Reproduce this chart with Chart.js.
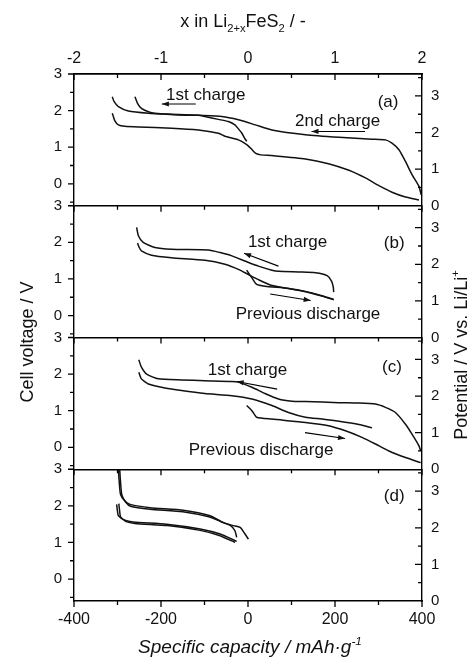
<!DOCTYPE html>
<html>
<head>
<meta charset="utf-8">
<script src="https://cdn.jsdelivr.net/npm/chart.js@4/dist/chart.umd.min.js"></script>
<style>
  html, body { margin: 0; padding: 0; background: #fff; }
  #wrap { width: 475px; height: 672px; }
</style>
</head>
<body>
<div id="wrap"><canvas id="chart"></canvas></div>
<script>
// capacity in mAh/g, cell voltage in V

// (a) discharge, 2nd charge, 1st charge
const capA_dis = [-312, -306, -298, -283, -252, -176, -114, -68, -53, -22, -3, 8, 18, 30, 55, 132, 185, 232, 270, 301, 331, 362, 393];
const voltA_dis = [1.93, 1.72, 1.61, 1.57, 1.55, 1.52, 1.47, 1.38, 1.30, 1.20, 1.07, 0.95, 0.83, 0.79, 0.77, 0.68, 0.55, 0.37, 0.16, -0.05, -0.23, -0.36, -0.44];
const capA_ch2 = [398, 393, 377, 362, 347, 331, 316, 285, 209, 132, 55, 17, -22, -60, -114, -176, -229, -275, -298, -308, -312];
const voltA_ch2 = [-0.30, -0.07, 0.25, 0.61, 0.93, 1.11, 1.20, 1.22, 1.27, 1.34, 1.47, 1.61, 1.75, 1.84, 1.87, 1.90, 1.93, 1.99, 2.11, 2.25, 2.38];
const capA_ch1 = [-3, -8, -14, -22, -30, -45, -68, -99, -114, -160, -214, -229, -245, -254, -260];
const voltA_ch1 = [1.16, 1.25, 1.38, 1.50, 1.61, 1.70, 1.76, 1.84, 1.87, 1.88, 1.93, 1.97, 2.06, 2.20, 2.38];

// (b) previous discharge, 1st charge, discharge
const capB_prev = [-3, 9, 20, 39, 93, 132, 170, 197];
const voltB_prev = [1.24, 1.03, 0.85, 0.80, 0.74, 0.66, 0.54, 0.44];
const capB_ch1 = [197, 196, 192, 182, 155, 117, 70, 55, 24, -7, -37, -64, -91, -176, -214, -241, -252, -256];
const voltB_ch1 = [0.64, 0.78, 0.94, 1.09, 1.17, 1.19, 1.21, 1.24, 1.35, 1.49, 1.63, 1.72, 1.79, 1.81, 1.86, 2.00, 2.18, 2.41];
const capB_dis = [-254, -250, -245, -222, -176, -99, -53, -22, 1, 24, 55, 93, 132, 170, 197];
const voltB_dis = [1.98, 1.86, 1.77, 1.65, 1.58, 1.51, 1.40, 1.26, 1.12, 0.98, 0.82, 0.74, 0.65, 0.53, 0.43];

// (c) previous discharge, 1st charge, discharge
const capC_prev = [-3, 9, 20, 55, 132, 185, 224, 262, 293, 324, 362, 397];
const voltC_prev = [1.14, 1.00, 0.82, 0.77, 0.68, 0.59, 0.45, 0.27, 0.09, -0.10, -0.28, -0.42];
const capC_ch1 = [397, 393, 377, 362, 339, 316, 293, 255, 209, 132, 101, 70, 39, 9, -22, -37, -99, -153, -206, -233, -245, -251];
const voltC_ch1 = [-0.10, 0.04, 0.36, 0.63, 0.95, 1.09, 1.18, 1.21, 1.22, 1.25, 1.26, 1.32, 1.47, 1.64, 1.78, 1.80, 1.82, 1.84, 1.87, 2.00, 2.19, 2.39];
const capC_dis = [-251, -245, -229, -191, -153, -99, -37, 9, 55, 93, 132, 170, 209, 255, 285];
const voltC_dis = [2.05, 1.87, 1.73, 1.62, 1.55, 1.47, 1.41, 1.32, 1.14, 0.95, 0.82, 0.77, 0.71, 0.62, 0.53];

// (d) two charge / discharge cycles
const capD_ch1 = [1, -8, -18, -34, -57, -87, -149, -225, -271, -283, -293, -296, -298];
const voltD_ch1 = [1.09, 1.25, 1.41, 1.46, 1.54, 1.73, 1.88, 1.95, 2.04, 2.13, 2.31, 2.65, 3.0];
const capD_ch2 = [-26, -30, -40, -60, -90, -150, -225, -270, -281, -290, -293, -295];
const voltD_ch2 = [1.14, 1.32, 1.46, 1.56, 1.70, 1.84, 1.91, 1.99, 2.10, 2.30, 2.65, 3.0];
const capD_dis1 = [-302, -300, -298, -283, -264, -187, -110, -64, -26];
const voltD_dis1 = [2.04, 1.85, 1.73, 1.61, 1.56, 1.50, 1.37, 1.23, 1.03];
const capD_dis2 = [-297, -295, -293, -280, -260, -185, -110, -66, -30];
const voltD_dis2 = [2.06, 1.85, 1.70, 1.57, 1.52, 1.46, 1.33, 1.19, 1.00];

// axis ticks
const capTicks = [-400, -200, 0, 200, 400];
const capMarks = [-400, -300, -200, -100, 0, 100, 200, 300, 400];
const liTicks = [-2, -1, 0, 1, 2];
const voltTicks = [0, 1, 2, 3];
const voltMarks = [-0.5, 0, 0.5, 1, 1.5, 2, 2.5, 3];
const potTicks = [0, 1, 2, 3];
const potMarks = [0.5, 1, 1.5, 2, 2.5, 3, 3.5];

// panel labels and arrows, in capacity / cell voltage units
const notes = [
  { axis: 'yA', x: -97, y: 2.43, text: '1st charge' },
  { axis: 'yA', x: 322, y: 2.22, text: '(a)' },
  { axis: 'yA', x: 206, y: 1.72, text: '2nd charge' },
  { axis: 'yB', x: 91, y: 2.0, text: '1st charge' },
  { axis: 'yB', x: 336, y: 1.98, text: '(b)' },
  { axis: 'yB', x: 138, y: 0.02, text: 'Previous discharge' },
  { axis: 'yC', x: -1, y: 2.10, text: '1st charge' },
  { axis: 'yC', x: 331, y: 2.19, text: '(c)' },
  { axis: 'yC', x: 30, y: -0.07, text: 'Previous discharge' },
  { axis: 'yD', x: 336, y: 2.27, text: '(d)' }
];
const arrows = [
  { axis: 'yA', from: [-120, 2.18], to: [-198, 2.18] },
  { axis: 'yA', from: [269, 1.43], to: [146, 1.43] },
  { axis: 'yB', from: [70, 1.35], to: [-9, 1.70] },
  { axis: 'yB', from: [51, 0.59], to: [144, 0.41] },
  { axis: 'yC', from: [67, 1.59], to: [-26, 1.80] },
  { axis: 'yC', from: [131, 0.40], to: [223, 0.24] }
];

const panels = [
  { left: 'yA', right: 'rA', wl: 4, wr: 1 },
  { left: 'yB', right: 'rB', wl: 3, wr: 2 },
  { left: 'yC', right: 'rC', wl: 2, wr: 3 },
  { left: 'yD', right: 'rD', wl: 1, wr: 4 }
];

const FONT = '"Liberation Sans", Arial, sans-serif';
Chart.defaults.font.family = FONT;
Chart.defaults.color = '#111';

function curve(cap, volt, axis) {
  return {
    data: cap.map((x, i) => ({ x: x, y: volt[i] })),
    yAxisID: axis,
    borderColor: '#111',
    borderWidth: 1.5,
    pointRadius: 0,
    tension: 0.2,
    fill: false
  };
}

const datasets = [
  curve(capA_dis, voltA_dis, 'yA'),
  curve(capA_ch2, voltA_ch2, 'yA'),
  curve(capA_ch1, voltA_ch1, 'yA'),
  curve(capB_prev, voltB_prev, 'yB'),
  curve(capB_ch1, voltB_ch1, 'yB'),
  curve(capB_dis, voltB_dis, 'yB'),
  curve(capC_prev, voltC_prev, 'yC'),
  curve(capC_ch1, voltC_ch1, 'yC'),
  curve(capC_dis, voltC_dis, 'yC'),
  curve(capD_ch1, voltD_ch1, 'yD'),
  curve(capD_ch2, voltD_ch2, 'yD'),
  curve(capD_dis1, voltD_dis1, 'yD'),
  curve(capD_dis2, voltD_dis2, 'yD')
];

const scales = {
  x: {
    type: 'linear', position: 'bottom', min: -400, max: 400,
    afterBuildTicks: s => { s.ticks = capTicks.map(v => ({ value: v })); },
    afterFit: s => { s.height = 71; },
    grid: { display: false, drawTicks: false },
    border: { color: '#000', width: 1.4 },
    ticks: { font: { size: 16 }, padding: 9, maxRotation: 0, autoSkip: false }
  },
  x2: {
    type: 'linear', axis: 'x', position: 'top', min: -2, max: 2,
    afterBuildTicks: s => { s.ticks = liTicks.map(v => ({ value: v })); },
    afterFit: s => { s.height = 74; },
    grid: { display: false, drawTicks: false },
    border: { color: '#000', width: 1.4 },
    ticks: { font: { size: 16 }, padding: 6, maxRotation: 0, autoSkip: false }
  }
};
panels.forEach(p => {
  scales[p.left] = {
    type: 'linear', axis: 'y', position: 'left', stack: 'left', weight: p.wl,
    min: -0.6, max: 3,
    afterBuildTicks: s => { s.ticks = voltTicks.map(v => ({ value: v })); },
    afterFit: s => { s.width = 74; },
    grid: {
      drawTicks: false,
      lineWidth: 1.4,
      color: c => (c.tick && c.tick.value === 3 ? '#000' : 'rgba(0,0,0,0)')
    },
    border: { color: '#000', width: 1.4 },
    ticks: { font: { size: 15 }, padding: 12, autoSkip: false }
  };
  scales[p.right] = {
    type: 'linear', axis: 'y', position: 'right', stack: 'right', weight: p.wr,
    min: 0, max: 3.6,
    afterBuildTicks: s => { s.ticks = potTicks.map(v => ({ value: v })); },
    afterFit: s => { s.width = 53; },
    grid: { display: false, drawTicks: false },
    border: { color: '#000', width: 1.4 },
    ticks: { font: { size: 15 }, padding: 9, autoSkip: false }
  };
});

// text with sub/superscript pieces: [text, shift] with shift 1 = sup, -1 = sub
function richText(ctx, parts, x0, y0, size, italic) {
  const f = s => (italic ? 'italic ' : '') + s + 'px ' + FONT;
  let total = 0;
  parts.forEach(([t, k]) => {
    ctx.font = f(k ? size * 0.62 : size);
    total += ctx.measureText(t).width;
  });
  let x = x0 - total / 2;
  parts.forEach(([t, k]) => {
    const s = k ? size * 0.62 : size;
    ctx.font = f(s);
    const dy = k > 0 ? -size * 0.42 : k < 0 ? size * 0.3 : 0;
    ctx.fillText(t, x, y0 + dy);
    x += ctx.measureText(t).width;
  });
}

const frame = {
  id: 'frame',
  afterDraw(chart) {
    const ctx = chart.ctx;
    const area = chart.chartArea;
    const s = chart.scales;
    ctx.save();
    ctx.strokeStyle = '#000';
    ctx.lineWidth = 1.3;
    ctx.beginPath();
    panels.forEach(p => {
      const top = s[p.left].top;
      capMarks.forEach(v => {
        const px = s.x.getPixelForValue(v);
        const len = v % 200 === 0 ? 6 : 4;
        ctx.moveTo(px, top);
        ctx.lineTo(px, top + len);
      });
      voltMarks.forEach(v => {
        const py = s[p.left].getPixelForValue(v);
        const len = Number.isInteger(v) ? 6 : 4;
        ctx.moveTo(area.left, py);
        ctx.lineTo(area.left - len, py);
      });
      potMarks.forEach(v => {
        const py = s[p.right].getPixelForValue(v);
        const len = Number.isInteger(v) ? 7 : 4;
        ctx.moveTo(area.right, py);
        ctx.lineTo(area.right - len, py);
      });
    });
    capMarks.forEach(v => {
      const px = s.x.getPixelForValue(v);
      const len = v % 200 === 0 ? 6 : 4;
      ctx.moveTo(px, area.bottom);
      ctx.lineTo(px, area.bottom + len);
    });
    ctx.stroke();

    // arrows
    ctx.lineWidth = 1.1;
    ctx.fillStyle = '#111';
    arrows.forEach(a => {
      const y = s[a.axis];
      const x1 = s.x.getPixelForValue(a.from[0]), y1 = y.getPixelForValue(a.from[1]);
      const x2 = s.x.getPixelForValue(a.to[0]), y2 = y.getPixelForValue(a.to[1]);
      const ang = Math.atan2(y2 - y1, x2 - x1);
      ctx.beginPath();
      ctx.moveTo(x1, y1);
      ctx.lineTo(x2, y2);
      ctx.stroke();
      ctx.beginPath();
      ctx.moveTo(x2, y2);
      ctx.lineTo(x2 - 7 * Math.cos(ang) + 2.6 * Math.sin(ang), y2 - 7 * Math.sin(ang) - 2.6 * Math.cos(ang));
      ctx.lineTo(x2 - 7 * Math.cos(ang) - 2.6 * Math.sin(ang), y2 - 7 * Math.sin(ang) + 2.6 * Math.cos(ang));
      ctx.closePath();
      ctx.fill();
    });

    // panel notes
    ctx.font = '17px ' + FONT;
    ctx.textAlign = 'center';
    ctx.textBaseline = 'middle';
    notes.forEach(n => {
      ctx.fillText(n.text, s.x.getPixelForValue(n.x), s[n.axis].getPixelForValue(n.y));
    });

    // axis titles
    ctx.textAlign = 'left';
    ctx.textBaseline = 'alphabetic';
    richText(ctx, [['x in Li', 0], ['2+x', -1], ['FeS', 0], ['2', -1], [' / -', 0]], 243, 27, 18, false);
    richText(ctx, [['Specific capacity / mAh\u00b7g', 0], ['-1', 1]], 250, 653, 19, true);
    ctx.save();
    ctx.translate(33, 342);
    ctx.rotate(-Math.PI / 2);
    richText(ctx, [['Cell voltage / V', 0]], 0, 0, 18, false);
    ctx.restore();
    ctx.save();
    ctx.translate(467, 355);
    ctx.rotate(-Math.PI / 2);
    richText(ctx, [['Potential / V vs. Li/Li', 0], ['+', 1]], 0, 0, 18, false);
    ctx.restore();
    ctx.restore();
  }
};

new Chart(document.getElementById('chart'), {
  type: 'line',
  data: { datasets: datasets },
  options: {
    responsive: true,
    maintainAspectRatio: false,
    devicePixelRatio: 1,
    animation: false,
    layout: { padding: 0 },
    plugins: { legend: { display: false }, tooltip: { enabled: false } },
    scales: scales
  },
  plugins: [frame]
});
</script>
</body>
</html>
